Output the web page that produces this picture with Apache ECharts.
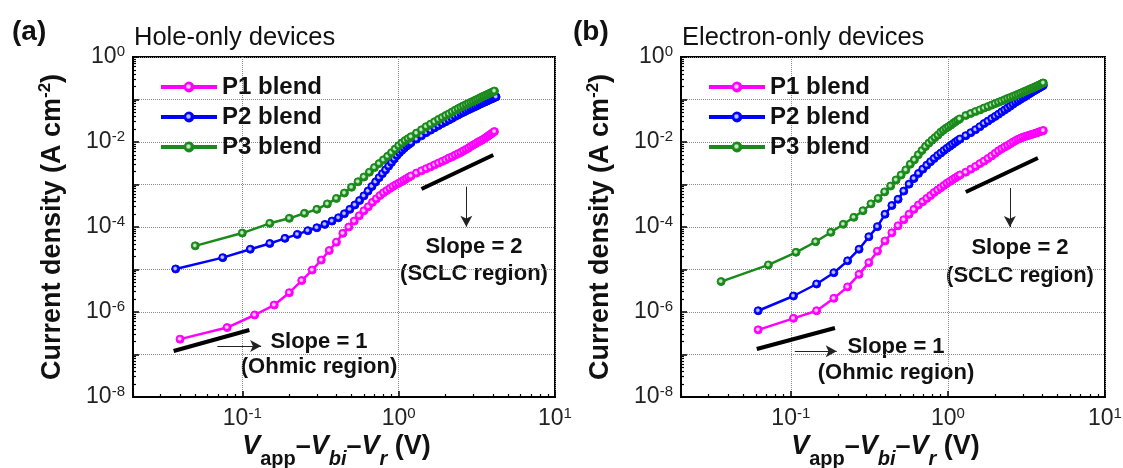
<!DOCTYPE html>
<html><head><meta charset="utf-8">
<script src="https://cdn.jsdelivr.net/npm/echarts@6/dist/echarts.min.js"></script>
<style>html,body{margin:0;padding:0;background:#fff}#chart{width:1123px;height:468px}</style>
</head><body><div id="chart"></div>
<script>
// ---------------- DATA ----------------
const seriesNames = ['P1 blend', 'P2 blend', 'P3 blend'];
const xLabelExponents = [-1, 0, 1];
const yLabelExponents = [0, -2, -4, -6, -8];

// (a) Hole-only devices
const holeP1V = [0.04,0.08,0.12,0.16,0.20,0.24,0.28,0.32,0.36,0.40,0.44,0.48,0.52,0.56,0.60,0.64,0.68,0.72,0.76,0.80,0.84,0.88,0.92,0.96,1.00,1.04,1.08,1.12,1.16,1.20,1.3,1.4,1.5,1.6,1.7,1.8,1.9,2.0,2.1,2.2,2.3,2.4,2.5,2.6,2.7,2.8,2.9,3.0,3.1,3.2,3.3,3.4,3.5,3.6,3.7,3.8,3.9,4.0,4.1];
const holeP1J = [2.3e-7,4.3e-7,8.5e-7,1.46e-6,2.85e-6,5.5e-6,9.7e-6,1.67e-5,2.8e-5,4.4e-5,7.1e-5,1.0e-4,1.38e-4,1.84e-4,2.4e-4,3.0e-4,3.8e-4,4.6e-4,5.5e-4,6.4e-4,7.2e-4,8.1e-4,9.0e-4,9.9e-4,1.07e-3,1.16e-3,1.26e-3,1.37e-3,1.48e-3,1.59e-3,1.86e-3,2.1e-3,2.35e-3,2.6e-3,2.9e-3,3.2e-3,3.5e-3,3.8e-3,4.2e-3,4.5e-3,4.9e-3,5.3e-3,5.7e-3,6.2e-3,6.7e-3,7.2e-3,7.9e-3,8.5e-3,9.1e-3,9.8e-3,1.04e-2,1.1e-2,1.17e-2,1.26e-2,1.35e-2,1.45e-2,1.55e-2,1.66e-2,1.76e-2];
const holeP2V = [0.0375,0.075,0.1125,0.15,0.1875,0.225,0.2625,0.30,0.3375,0.375,0.4125,0.45,0.4875,0.525,0.5625,0.60,0.6375,0.675,0.7125,0.75,0.7875,0.825,0.8625,0.90,0.9375,0.975,1.0125,1.05,1.0875,1.125,1.1625,1.20,1.3,1.4,1.5,1.6,1.7,1.8,1.9,2.0,2.1,2.2,2.3,2.4,2.5,2.6,2.7,2.8,2.9,3.0,3.1,3.2,3.3,3.4,3.5,3.6,3.7,3.8,3.9,4.0,4.1,4.2];
const holeP2J = [1.03e-5,1.9e-5,3.0e-5,4.1e-5,5.4e-5,6.7e-5,8.2e-5,9.6e-5,1.15e-4,1.38e-4,1.65e-4,2.05e-4,2.6e-4,3.3e-4,4.2e-4,5.4e-4,7.0e-4,9.0e-4,1.15e-3,1.45e-3,1.8e-3,2.2e-3,2.7e-3,3.3e-3,4.0e-3,4.8e-3,5.6e-3,6.4e-3,7.2e-3,8.0e-3,8.8e-3,9.6e-3,1.17e-2,1.4e-2,1.66e-2,1.9e-2,2.16e-2,2.43e-2,2.72e-2,3.0e-2,3.3e-2,3.6e-2,4.0e-2,4.3e-2,4.7e-2,5.0e-2,5.4e-2,5.75e-2,6.1e-2,6.5e-2,6.85e-2,7.25e-2,7.7e-2,8.1e-2,8.5e-2,8.9e-2,9.3e-2,9.8e-2,1.02e-1,1.06e-1,1.11e-1,1.15e-1];
const holeP3V = [0.05,0.10,0.15,0.20,0.25,0.30,0.35,0.40,0.45,0.50,0.55,0.60,0.65,0.70,0.75,0.80,0.85,0.90,0.95,1.00,1.05,1.10,1.15,1.20,1.3,1.4,1.5,1.6,1.7,1.8,1.9,2.0,2.1,2.2,2.3,2.4,2.5,2.6,2.7,2.8,2.9,3.0,3.1,3.2,3.3,3.4,3.5,3.6,3.7,3.8,3.9,4.0,4.1];
const holeP3J = [3.6e-5,7.2e-5,1.22e-4,1.6e-4,2.1e-4,2.6e-4,3.5e-4,4.7e-4,6.3e-4,8.6e-4,1.16e-3,1.5e-3,1.95e-3,2.5e-3,3.1e-3,3.8e-3,4.6e-3,5.6e-3,6.8e-3,8.2e-3,9.5e-3,1.08e-2,1.2e-2,1.33e-2,1.62e-2,1.93e-2,2.3e-2,2.63e-2,3.0e-2,3.4e-2,3.76e-2,4.2e-2,4.6e-2,5.1e-2,5.6e-2,6.1e-2,6.6e-2,7.1e-2,7.6e-2,8.1e-2,8.6e-2,9.1e-2,9.7e-2,1.02e-1,1.08e-1,1.15e-1,1.2e-1,1.26e-1,1.32e-1,1.38e-1,1.45e-1,1.51e-1,1.58e-1];

// (b) Electron-only devices
const elecP12V = [0.062,0.104,0.146,0.188,0.230,0.272,0.314,0.356,0.398,0.440,0.482,0.524,0.566,0.608,0.650,0.692,0.734,0.776,0.818,0.860,0.902,0.944,0.986,1.028,1.070,1.112,1.154,1.196,1.3,1.4,1.5,1.6,1.7,1.8,1.9,2.0,2.1,2.2,2.3,2.4,2.5,2.6,2.7,2.8,2.9,3.0,3.1,3.2,3.3,3.4,3.5,3.6,3.7,3.8,3.9,4.0,4.05];
const elecP1J = [3.8e-7,7.1e-7,1.07e-6,2.1e-6,3.9e-6,7.7e-6,1.45e-5,2.7e-5,4.7e-5,7.3e-5,1.07e-4,1.48e-4,2.0e-4,2.6e-4,3.3e-4,3.95e-4,4.7e-4,5.5e-4,6.5e-4,7.4e-4,8.4e-4,9.5e-4,1.07e-3,1.18e-3,1.3e-3,1.42e-3,1.55e-3,1.68e-3,1.95e-3,2.3e-3,2.66e-3,3.1e-3,3.55e-3,4.1e-3,4.7e-3,5.4e-3,6.2e-3,6.9e-3,7.6e-3,8.3e-3,9.1e-3,1.0e-2,1.08e-2,1.16e-2,1.23e-2,1.29e-2,1.35e-2,1.4e-2,1.45e-2,1.5e-2,1.55e-2,1.6e-2,1.66e-2,1.72e-2,1.78e-2,1.82e-2,1.86e-2];
const elecP2J = [1.07e-6,2.38e-6,4.56e-6,8.4e-6,1.6e-5,3.0e-5,5.9e-5,1.02e-4,2.0e-4,3.2e-4,4.5e-4,7.0e-4,1.02e-3,1.38e-3,1.82e-3,2.3e-3,2.85e-3,3.45e-3,4.1e-3,4.8e-3,5.5e-3,6.3e-3,7.1e-3,7.9e-3,8.8e-3,9.8e-3,1.08e-2,1.18e-2,1.41e-2,1.66e-2,1.95e-2,2.3e-2,2.72e-2,3.1e-2,3.55e-2,4.0e-2,4.5e-2,5.1e-2,5.7e-2,6.3e-2,7.0e-2,7.8e-2,8.6e-2,9.3e-2,1.01e-1,1.1e-1,1.17e-1,1.27e-1,1.36e-1,1.46e-1,1.57e-1,1.66e-1,1.76e-1,1.86e-1,1.97e-1,2.09e-1,2.16e-1];
const elecP3V = [0.036,0.072,0.108,0.144,0.180,0.216,0.252,0.288,0.324,0.360,0.396,0.432,0.468,0.504,0.540,0.576,0.612,0.648,0.684,0.720,0.756,0.792,0.828,0.864,0.900,0.936,0.972,1.008,1.044,1.080,1.116,1.152,1.188,1.3,1.4,1.5,1.6,1.7,1.8,1.9,2.0,2.1,2.2,2.3,2.4,2.5,2.6,2.7,2.8,2.9,3.0,3.1,3.2,3.3,3.4,3.5,3.6,3.7,3.8,3.9,4.0,4.05];
const elecP3J = [5.2e-6,1.28e-5,2.54e-5,4.5e-5,7.5e-5,1.16e-4,1.69e-4,2.42e-4,3.5e-4,4.7e-4,6.7e-4,9.2e-4,1.28e-3,1.67e-3,2.2e-3,3.0e-3,3.8e-3,5.0e-3,6.3e-3,7.8e-3,9.4e-3,1.1e-2,1.27e-2,1.45e-2,1.7e-2,1.9e-2,2.1e-2,2.3e-2,2.5e-2,2.75e-2,3.0e-2,3.25e-2,3.5e-2,4.2e-2,4.7e-2,5.2e-2,5.7e-2,6.3e-2,6.8e-2,7.4e-2,8.0e-2,8.6e-2,9.2e-2,9.9e-2,1.06e-1,1.12e-1,1.19e-1,1.26e-1,1.33e-1,1.41e-1,1.48e-1,1.57e-1,1.64e-1,1.74e-1,1.82e-1,1.9e-1,2.0e-1,2.09e-1,2.19e-1,2.29e-1,2.4e-1,2.45e-1];

// guide lines (slope markers) and arrows, in data coordinates
const holeSlope1 = [[0.0364, 1.21e-7], [0.111, 3.77e-7]];
const holeArrow1 = [[0.0693, 1.58e-7], [0.132, 1.58e-7]];
const holeSlope2 = [[1.40, 7.83e-4], [4.03, 4.94e-3]];
const holeArrow2 = [[2.71, 8.9e-4], [2.71, 1.02e-4]];
const elecSlope1 = [[0.0607, 1.35e-7], [0.191, 4.2e-7]];
const elecArrow1 = [[0.106, 1.2e-7], [0.196, 1.2e-7]];
const elecSlope2 = [[1.30, 6.67e-4], [3.74, 4.2e-3]];
const elecArrow2 = [[2.48, 8.3e-4], [2.48, 1.0e-4]];

// ---------------- STYLE ----------------
const FONT = '"Liberation Sans", Arial, Helvetica, sans-serif';
const COLORS = ['#ff00ff', '#0000ff', '#1a8a1a'];
const LIGHT = ['#ffd0ff', '#c0c0ff', '#c0e8c0'];

const minorX = [], minorY = [];
for (let d = -2; d <= 0; d++) for (let m = 2; m <= 9; m++) { const v = m * Math.pow(10, d); if (v >= 0.02 && v <= 10) minorX.push(+v.toPrecision(3)); }
for (let d = -8; d <= -1; d++) for (let m = 2; m <= 9; m++) minorY.push(+(m * Math.pow(10, d)).toPrecision(3));

function expOf(v) { const e = Math.log10(v); const r = Math.round(e); return Math.abs(e - r) < 1e-6 ? r : null; }
const labelRich = {
  b: { fontSize: 23, fontFamily: FONT, color: '#222', lineHeight: 26 },
  s: { fontSize: 15, fontFamily: FONT, color: '#222', verticalAlign: 'top', lineHeight: 14 }
};

function zip(a, b) { return a.map((v, i) => [v, b[i]]); }

function makeAxes(gi) {
  const xa = {
    type: 'log', logBase: 10, gridIndex: gi, min: 0.02, max: 10, position: 'bottom',
    axisLine: { show: true, onZero: false, lineStyle: { color: '#000', width: 2 } },
    axisTick: { show: true, inside: true, length: 6, lineStyle: { color: '#000', width: 1.5 } },
    axisLabel: { margin: 9, rich: labelRich, formatter: v => { const r = expOf(v); return (r !== null && xLabelExponents.includes(r)) ? '{b|10}{s|' + r + '}' : ''; } },
    splitLine: { show: true, lineStyle: { color: '#8a8a8a', type: 'dotted', width: 1 } },
    name: '{v|V}{s|app}{d|–}{v|V}{si|bi}{d|–}{v|V}{si|r}{n| (V)}', nameLocation: 'middle', nameGap: 28, nameMoveOverlap: false,
    nameTextStyle: { padding: [0, 15, 0, 0], rich: {
      v: { fontSize: 27, fontWeight: 'bold', fontStyle: 'italic', fontFamily: FONT, color: '#111', lineHeight: 44 },
      d: { fontSize: 27, fontWeight: 'bold', fontFamily: FONT, color: '#111', lineHeight: 44 },
      n: { fontSize: 27, fontWeight: 'bold', fontFamily: FONT, color: '#111', lineHeight: 44 },
      s: { fontSize: 20, fontWeight: 'bold', fontFamily: FONT, color: '#111', verticalAlign: 'bottom' },
      si: { fontSize: 20, fontWeight: 'bold', fontStyle: 'italic', fontFamily: FONT, color: '#111', verticalAlign: 'bottom' }
    } }
  };
  const xm = {
    type: 'log', logBase: 10, gridIndex: gi, min: 0.02, max: 10, position: 'bottom',
    axisLine: { show: false, onZero: false }, axisLabel: { show: false }, splitLine: { show: false },
    axisTick: { show: true, inside: true, length: 3, customValues: minorX, lineStyle: { color: '#000', width: 1.2 } }
  };
  const ya = {
    type: 'log', logBase: 10, gridIndex: gi, min: 1e-8, max: 1, position: 'left',
    axisLine: { show: true, onZero: false, lineStyle: { color: '#000', width: 2 } },
    axisTick: { show: true, inside: true, length: 6, lineStyle: { color: '#000', width: 1.5 } },
    axisLabel: { margin: 8, rich: labelRich, formatter: v => { const r = expOf(v); return (r !== null && yLabelExponents.includes(r)) ? '{b|10}{s|' + r + '}' : ''; } },
    splitLine: { show: true, lineStyle: { color: '#8a8a8a', type: 'dotted', width: 1 } },
    name: '{t|Current density (A cm}{s|-2}{t|)}', nameLocation: 'middle', nameGap: 64, nameMoveOverlap: false,
    nameTextStyle: { rich: {
      t: { fontSize: 27, fontWeight: 'bold', fontFamily: FONT, color: '#111', lineHeight: 32 },
      s: { fontSize: 17, fontWeight: 'bold', fontFamily: FONT, color: '#111', verticalAlign: 'top', lineHeight: 16 }
    } }
  };
  const ym = {
    type: 'log', logBase: 10, gridIndex: gi, min: 1e-8, max: 1, position: 'left',
    axisLine: { show: false, onZero: false }, axisLabel: { show: false }, splitLine: { show: false },
    axisTick: { show: true, inside: true, length: 3, customValues: minorY, lineStyle: { color: '#000', width: 1.2 } }
  };
  return { xa, xm, ya, ym };
}

const A = makeAxes(0), B = makeAxes(1);
const xAxis = [A.xa, B.xa, A.xm, B.xm];
const yAxis = [A.ya, B.ya, A.ym, B.ym];

function dataSeries(name, idx, gi, V, J) {
  return {
    type: 'line', name, xAxisIndex: gi, yAxisIndex: gi, data: zip(V, J),
    symbol: 'circle', symbolSize: 8, showSymbol: true, showAllSymbol: true, animation: false, silent: true,
    lineStyle: { color: COLORS[idx], width: 2.5 },
    itemStyle: {
      color: { type: 'radial', x: 0.45, y: 0.45, r: 0.5, colorStops: [{ offset: 0, color: LIGHT[idx] }, { offset: 0.25, color: LIGHT[idx] }, { offset: 0.55, color: COLORS[idx] }, { offset: 1, color: COLORS[idx] }] },
      borderColor: COLORS[idx], borderWidth: 1
    },
    z: 3 + idx
  };
}
function guideSeries(gi, seg, arrow) {
  return {
    type: 'line', name: 'guide', xAxisIndex: gi, yAxisIndex: gi, data: seg, symbol: 'none', silent: true, animation: false,
    lineStyle: { color: '#000', width: 4 }, z: 8,
    markLine: {
      silent: true, animation: false, symbol: ['none', 'arrow'], symbolSize: [9, 11],
      label: { show: false }, lineStyle: { color: '#222', width: 1, type: 'solid' },
      data: [[{ coord: arrow[0] }, { coord: arrow[1] }]]
    }
  };
}

const series = [
  dataSeries(seriesNames[0], 0, 0, holeP1V, holeP1J),
  dataSeries(seriesNames[1], 1, 0, holeP2V, holeP2J),
  dataSeries(seriesNames[2], 2, 0, holeP3V, holeP3J),
  dataSeries(seriesNames[0], 0, 1, elecP12V, elecP1J),
  dataSeries(seriesNames[1], 1, 1, elecP12V, elecP2J),
  dataSeries(seriesNames[2], 2, 1, elecP3V, elecP3J),
  guideSeries(0, holeSlope1, holeArrow1),
  guideSeries(0, holeSlope2, holeArrow2),
  guideSeries(1, elecSlope1, elecArrow1),
  guideSeries(1, elecSlope2, elecArrow2)
];

function legendAt(left) {
  return {
    data: seriesNames, orient: 'vertical', left, top: 75, padding: 0, itemWidth: 56, itemHeight: 11, itemGap: 6,
    selectedMode: false, lineStyle: { width: 4 },
    textStyle: { fontSize: 24, fontWeight: 'bold', fontFamily: FONT, color: '#111', lineHeight: 24 }
  };
}

function txt(x, y, text, font, align) {
  return { type: 'text', x, y, silent: true, style: { text, font, fill: '#111', align: align || 'center', verticalAlign: 'middle' } };
}
const B22 = 'bold 22px ' + FONT;
const graphic = [
  txt(12, 32, '(a)', 'bold 28px ' + FONT, 'left'),
  txt(134, 38, 'Hole-only devices', '25.5px ' + FONT, 'left'),
  txt(573, 32, '(b)', 'bold 28px ' + FONT, 'left'),
  txt(682, 38, 'Electron-only devices', '25.5px ' + FONT, 'left'),
  txt(319, 342, 'Slope = 1', B22), txt(319, 367, '(Ohmic region)', B22),
  txt(474, 247, 'Slope = 2', B22), txt(474, 274, '(SCLC region)', B22),
  txt(896, 347, 'Slope = 1', B22), txt(896, 373, '(Ohmic region)', B22),
  txt(1020, 248, 'Slope = 2', B22), txt(1020, 276, '(SCLC region)', B22)
];

const chart = echarts.init(document.getElementById('chart'), null, { renderer: 'canvas' });
chart.setOption({
  backgroundColor: '#fff',
  animation: false,
  grid: [
    { left: 133, right: 568, top: 57, bottom: 71, outerBoundsMode: 'none', containLabel: false, show: true, borderColor: '#000', borderWidth: 2, backgroundColor: 'transparent' },
    { left: 681, right: 18, top: 57, bottom: 71, outerBoundsMode: 'none', containLabel: false, show: true, borderColor: '#000', borderWidth: 2, backgroundColor: 'transparent' }
  ],
  legend: [legendAt(159), legendAt(707)],
  xAxis, yAxis, series, graphic
});
</script></body></html>
